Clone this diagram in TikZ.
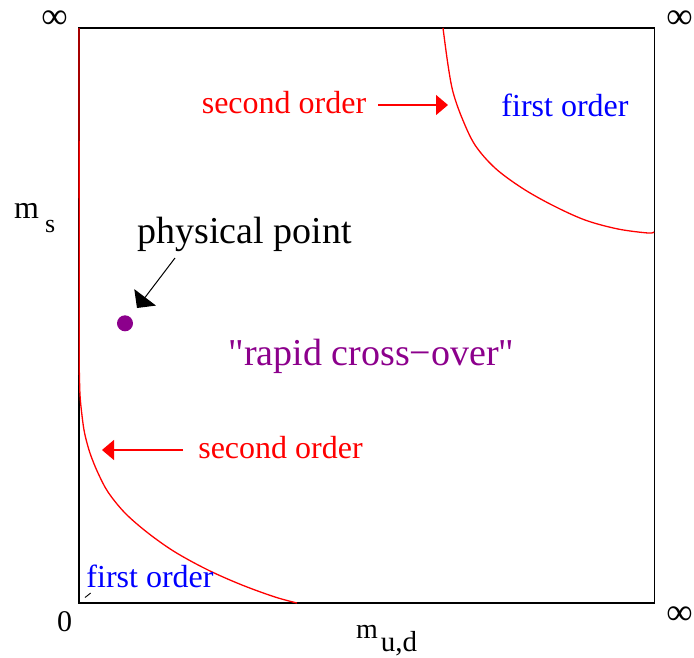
\documentclass[tikz,border=0pt]{standalone}
\usepackage{fontspec}
\setmainfont{Liberation Serif}
\newfontfamily\plainserif{Liberation Serif}[Ligatures=TeXOff]
\usetikzlibrary{arrows.meta}
\definecolor{pp}{RGB}{140,0,140}
\tikzset{
  lbl/.style={inner sep=0pt, anchor=base},
  redline/.style={draw=red, line width=1.3pt},
  redarrow/.style={draw=red, line width=1.3pt, -{Triangle[length=12pt,width=20pt]}, red},
  fs/.style={font=\fontsize{#1}{#1}\selectfont},
  infty/.style={inner sep=0pt, anchor=center, font=\fontsize{37}{37}\selectfont}
}
\begin{document}
\begin{tikzpicture}[x=1pt,y=-1pt]
\useasboundingbox (0,0) rectangle (694,657);
% frame
\draw[line width=1.1pt] (79,28) rectangle (654.5,603);
% red curves
\draw[redline] (79,28) -- (79.3,370) plot[smooth, tension=0.55] coordinates {(79.3,370) (80,395) (81.7,413) (84,430) (87,443) (91,456) (98,473) (108,492) (125,513) (148,533) (175,552) (208,570) (242,585) (275,597) (297,603)};
\draw[redline] plot[smooth, tension=0.55] coordinates {(443,28) (448,65) (453,92) (462,118) (475,145) (495,168) (522,188) (552,205) (585,220) (618,229) (648,233) (654,232)};
% corner labels
\node[infty] (inf1) at (54.5,19.5) {∞};
\node[infty] (inf2) at (679.5,19.5) {∞};
\node[infty] (inf3) at (679.5,615.5) {∞};
\node[lbl, fs=30] (zero) at (64.5,631) {0};
% axis labels
\node[inner sep=0pt, anchor=base west] (ms) at (14,218) {\fontsize{32}{32}\selectfont m\hspace{6pt}\raisebox{-14pt}{\fontsize{26}{26}\selectfont s}};
\node[inner sep=0pt, anchor=base west] (mud) at (356,638) {\fontsize{28}{28}\selectfont m\hspace{3pt}\raisebox{-13pt}{\fontsize{29}{29}\selectfont u,d}};
% region labels
\node[lbl, fs=32, text=red] (so1) at (284,113) {second order};
\node[lbl, fs=32, text=blue] (fo1) at (565,116) {first order};
\node[lbl, fs=32, text=red] (so2) at (280.5,458) {second order};
\node[lbl, fs=32, text=blue] (fo2) at (150,587) {first order};
\node[lbl, fs=38] (pp) at (244.5,243) {physical point};
\node[lbl, fs=38, text=pp] (rc) at (371.5,365) {{\plainserif"}rapid cross−over{\plainserif"}};
% physical point dot
\node[circle, fill=pp, inner sep=0pt, minimum size=16pt] (dot) at (125,323.3) {};
% arrows
\coordinate (a1s) at (378,105);
\coordinate (a1e) at (448,105);
\coordinate (a2s) at (183,450);
\coordinate (a2e) at (102,450);
\coordinate (a3s) at (175,258);
\coordinate (a3e) at (137,308);
\coordinate (t1) at (90.7,593);
\coordinate (t2) at (85,597.5);
\draw[redarrow] (a1s) -- (a1e);
\draw[redarrow] (a2s) -- (a2e);
\draw[line width=1pt, -{Triangle[length=13.4pt,width=27pt]}] (a3s) -- (a3e);
\draw[line width=0.9pt] (t1) -- (t2);
\end{tikzpicture}
\end{document}
